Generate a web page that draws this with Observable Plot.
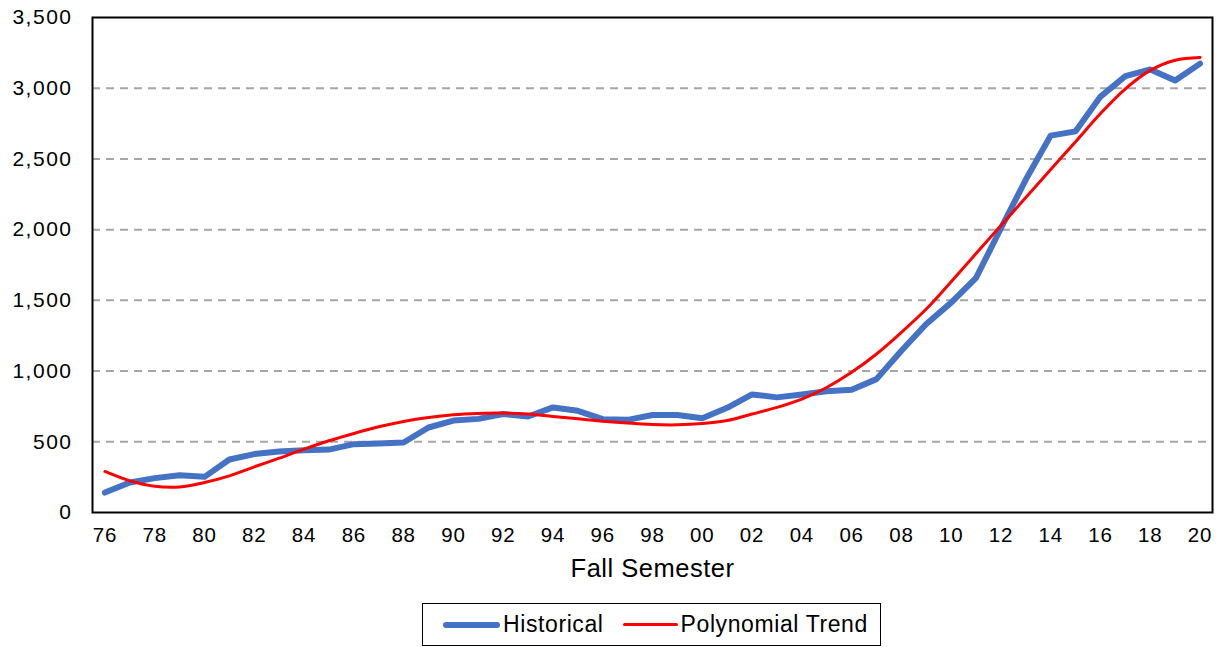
<!DOCTYPE html>
<html>
<head>
<meta charset="utf-8">
<script src="https://cdn.jsdelivr.net/npm/d3@7"></script>
<script src="https://cdn.jsdelivr.net/npm/@observablehq/plot@0.6"></script>
<style>
  html, body { margin: 0; padding: 0; background: #fff; }
  body { width: 1220px; height: 647px; font-family: "Liberation Sans", Arial, sans-serif; }
  #chart svg { display: block; }
  #chart g[aria-label="y-axis tick label"] text { letter-spacing: 1.5px; }
  #chart g[aria-label="x-axis tick label"] text { letter-spacing: 0.8px; }
  #chart g[aria-label="text"] text { letter-spacing: 0.5px; }
  .legend {
    position: absolute; left: 422px; top: 603px; width: 459px; height: 43px;
    border: 1.5px solid #000; box-sizing: border-box;
    display: flex; align-items: center; padding-left: 20px;
    font-size: 23px; color: #000; letter-spacing: 0.6px;
  }
  .legend .item { display: flex; align-items: center; }
  .legend .sw { display: inline-block; border-radius: 3px; margin-right: 3px; }
</style>
</head>
<body>
<div id="chart"></div>
<div class="legend">
  <span class="item"><span class="sw" style="width:57px;height:6px;background:#4472C4"></span>Historical</span>
  <span class="item" style="margin-left:19px"><span class="sw" style="width:55px;height:3.5px;background:#FF0000"></span>Polynomial Trend</span>
</div>
<script>
const years = ["76","77","78","79","80","81","82","83","84","85","86","87","88","89","90","91","92","93","94","95","96","97","98","99","00","01","02","03","04","05","06","07","08","09","10","11","12","13","14","15","16","17","18","19","20"];
const historical = [141,212,243,264,252,375,413,431,441,445,483,488,495,601,650,662,696,679,743,719,660,655,689,689,667,740,835,814,835,858,868,943,1144,1333,1484,1659,2010,2354,2665,2695,2941,3085,3133,3054,3174];
const trend = [290,224,186,181,212,259,323,384,448,507,559,606,644,672,691,700,703,696,679,663,646,632,622,620,629,650,696,743,802,884,991,1121,1274,1439,1632,1831,2030,2227,2426,2622,2821,2996,3126,3198,3217];
const xTickLabels = years.filter((d, i) => i % 2 === 0);
const yTicks = [0,500,1000,1500,2000,2500,3000,3500];
const gridValues = [500,1000,1500,2000,2500,3000];

const histData = years.map((y, i) => ({year: y, value: historical[i]}));
const trendData = years.map((y, i) => ({year: y, value: trend[i]}));

const chart = Plot.plot({
  width: 1220,
  height: 600,
  marginLeft: 92,
  marginRight: 8,
  marginTop: 17,
  marginBottom: 88,
  style: {fontFamily: "'Liberation Sans', Arial, sans-serif", color: "#000", background: "#fff"},
  x: {type: "point", domain: years, padding: 0.5},
  y: {domain: [0, 3500]},
  marks: [
    Plot.ruleY(gridValues, {stroke: "#a6a6a6", strokeWidth: 2, strokeDasharray: "8,6"}),
    Plot.axisY(yTicks, {tickSize: 0, tickPadding: 20, fontSize: 21, tickFormat: d3.format(","), label: null}),
    Plot.axisX(xTickLabels, {tickSize: 0, tickPadding: 15, fontSize: 20.5, label: null}),
    Plot.text(["Fall Semester"], {frameAnchor: "bottom", dy: 64, fontSize: 25.5, fill: "#000"}),
    Plot.line(histData, {x: "year", y: "value", stroke: "#4472C4", strokeWidth: 6, strokeLinejoin: "round", strokeLinecap: "round"}),
    Plot.line(trendData, {x: "year", y: "value", stroke: "#FF0000", strokeWidth: 3, curve: "catmull-rom"}),
    Plot.frame({stroke: "#000", strokeWidth: 2})
  ]
});
document.getElementById("chart").appendChild(chart);
</script>
</body>
</html>
